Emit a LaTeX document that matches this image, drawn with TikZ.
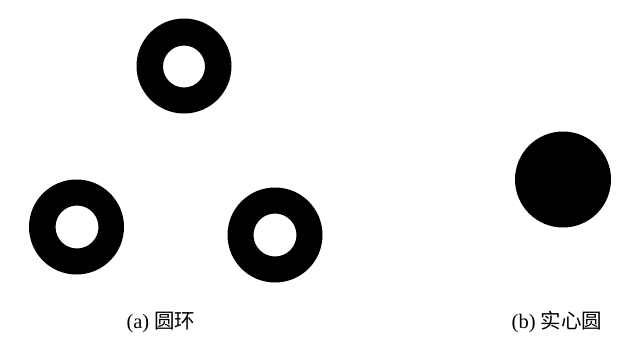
\documentclass[tikz,border=0pt]{standalone}
\usepackage{fontspec}
\setmainfont{Liberation Serif}
\newfontfamily\cjk{Noto Sans CJK SC}
\begin{document}
\begin{tikzpicture}[x=1bp,y=-1bp,
  ring/.style={fill=black,even odd rule},
  lbl/.style={inner sep=0pt,font=\fontsize{20.5bp}{24bp}\selectfont}]
\useasboundingbox[fill=white] (0,0) rectangle (636,340);
\fill[ring] (184,66) circle (47.5) (184,66.5) circle (21);
\fill[ring] (76.5,227) circle (47.5) (77,227) circle (21.5);
\fill[ring] (275,235) circle (47.5) (275,235) circle (21.5);
\fill[black] (563,179.5) circle (48);
\node[lbl] (la) at (161,322) {(a) {\cjk 圆环}};
\node[lbl] (lb) at (557,322) {(b) {\cjk 实心圆}};
\end{tikzpicture}
\end{document}
